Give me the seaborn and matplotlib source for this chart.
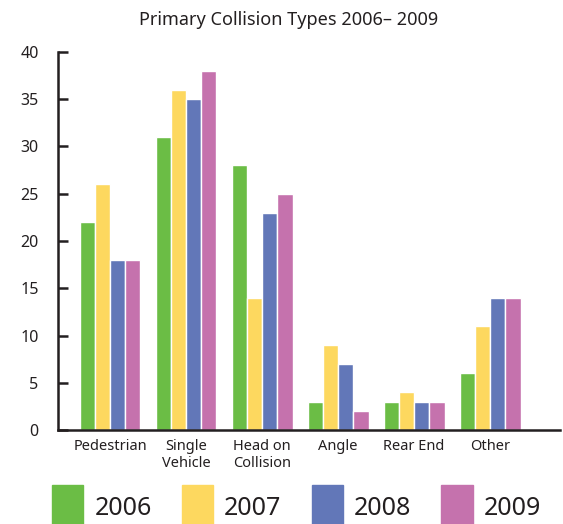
import seaborn as sns
import matplotlib.pyplot as plt
import pandas as pd

categories = ["Pedestrian", "Single\nVehicle", "Head on\nCollision", "Angle", "Rear End", "Other"]
years = ["2006", "2007", "2008", "2009"]
v2006 = [22, 31, 28, 3, 3, 6]
v2007 = [26, 36, 14, 9, 4, 11]
v2008 = [18, 35, 23, 7, 3, 14]
v2009 = [18, 38, 25, 2, 3, 14]
colors = ["#6BBD45", "#FDD85F", "#6277B8", "#C572AD"]

rows = []
for yr, vals in zip(years, [v2006, v2007, v2008, v2009]):
    for c, v in zip(categories, vals):
        rows.append({"type": c, "year": yr, "count": v})
df = pd.DataFrame(rows)

sns.set_style("white")
plt.rcParams["font.family"] = ["Noto Sans", "DejaVu Sans"]
ink = "#231F20"

fig = plt.figure(figsize=(5.63, 5.24), dpi=100)
ax = fig.add_axes([0.103, 0.179, 0.892, 0.722])
sns.barplot(data=df, x="type", y="count", hue="year", palette=colors,
            width=0.8, edgecolor="white", linewidth=1, saturation=1, ax=ax)

ax.set_ylim(0, 40)
ax.set_xlim(-0.684, 5.92)
ax.set_yticks(range(0, 41, 5))
ax.set_xlabel("")
ax.set_ylabel("")
sns.despine(ax=ax)
for s in ["left", "bottom"]:
    ax.spines[s].set_linewidth(1.8)
    ax.spines[s].set_color(ink)
ax.tick_params(axis="y", left=True, direction="in", length=7, width=1.8, pad=14,
               labelsize=11.5, colors=ink)
ax.tick_params(axis="x", bottom=False, length=0, pad=6, labelsize=10.5, colors=ink)
for t in ax.get_xticklabels():
    t.set_linespacing(1.2)
fig.text(0.512, 0.962, "Primary Collision Types 2006\u2013 2009", fontsize=13,
         color=ink, ha="center", va="center")

ax.get_legend().remove()
handles = [plt.Rectangle((0, 0), 1, 1, color=c) for c in colors]
fig.legend(handles, years, loc="lower left", bbox_to_anchor=(0.07, -0.036),
           ncol=4, frameon=False, fontsize=18, handlelength=1.25,
           handleheight=2.4, handletextpad=0.45, columnspacing=1.2,
           borderpad=0, labelcolor=ink)

fig.savefig("out.png", dpi=100)
